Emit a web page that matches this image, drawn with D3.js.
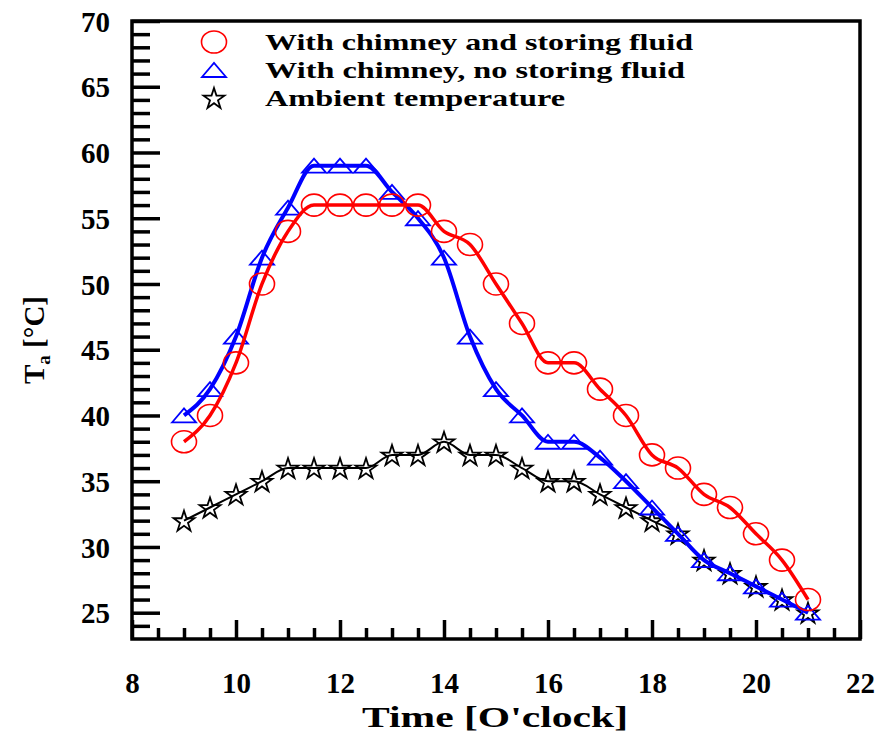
<!DOCTYPE html>
<html><head><meta charset="utf-8">
<script src="https://cdn.jsdelivr.net/npm/d3@7"></script>
<style>body{margin:0;background:#fff}</style>
</head><body><svg id="c" width="881" height="738"></svg>
<script>
const times = [9,9.5,10,10.5,11,11.5,12,12.5,13,13.5,14,14.5,15,15.5,16,16.5,17,17.5,18,18.5,19,19.5,20,20.5,21];
const storing = [38,40,44,50,54,56,56,56,56,56,54,53,50,47,44,44,42,40,37,36,34,33,31,29,26];
const noStoring = [40,42,46,52,55.8,59,59,59,57,55,52,46,42,40,38,38,36.8,35,33,31,29,28,27,26,25];
const ambient = [32,33,34,35,36,36,36,36,37,37,38,37,37,36,35,35,34,33,32,31,29,28,27,26,25];
const seriesNames = ["With chimney and storing fluid","With chimney, no storing fluid","Ambient temperature"];
const xMajor = [8,10,12,14,16,18,20,22];
const xMinor = [8.5,9,9.5,10.5,11,11.5,12.5,13,13.5,14.5,15,15.5,16.5,17,17.5,18.5,19,19.5,20.5,21,21.5];
const yMajor = [25,30,35,40,45,50,55,60,65,70];
const yMinor = [24,26,27,28,29,31,32,33,34,36,37,38,39,41,42,43,44,46,47,48,49,51,52,53,54,56,57,58,59,61,62,63,64,66,67,68,69];

const svg = d3.select("#c");
const L=132,R=860,T=21,B=639;
const x = d3.scaleLinear().domain([8,22]).range([L,R]);
const y = d3.scaleLinear().domain([23,70]).range([B,T]);
const font = "'Liberation Serif','Times New Roman',serif";

// ticks
function styleAxis(g){ g.select(".domain").remove(); g.selectAll("line").attr("stroke","#000").attr("stroke-width",3.5); }
svg.append("g").attr("transform",`translate(0,${B})`)
  .call(d3.axisBottom(x).tickValues(xMinor).tickSize(-11).tickFormat(""))
  .call(styleAxis);
const xg = svg.append("g").attr("transform",`translate(0,${B})`)
  .call(d3.axisBottom(x).tickValues(xMajor).tickSize(-19).tickFormat(d3.format("d")))
  .call(styleAxis);
xg.selectAll("text").attr("y",44).attr("dy","0.35em")
  .attr("font-family",font).attr("font-weight","bold").attr("font-size",29).attr("fill","#000");
svg.append("g").attr("transform",`translate(${L},0)`)
  .call(d3.axisLeft(y).tickValues(yMinor).tickSize(-18).tickFormat(""))
  .call(styleAxis);
const yg = svg.append("g").attr("transform",`translate(${L},0)`)
  .call(d3.axisLeft(y).tickValues(yMajor).tickSize(-28).tickFormat(d3.format("d")))
  .call(styleAxis);
yg.selectAll("text").attr("x",-22).attr("dy","0.35em")
  .attr("font-family",font).attr("font-weight","bold").attr("font-size",29).attr("fill","#000");

// frame
svg.append("rect").attr("x",L).attr("y",T).attr("width",R-L).attr("height",B-T)
  .attr("fill","none").attr("stroke","#000").attr("stroke-width",3.5);

// titles
svg.append("text").attr("x",362).attr("y",716).attr("dy","0.35em")
  .attr("font-family",font).attr("font-weight","bold").attr("font-size",30)
  .attr("textLength",266).attr("lengthAdjust","spacingAndGlyphs")
  .text("Time [O'clock]");
const yt = svg.append("text").attr("transform","translate(34,340) rotate(-90)").attr("text-anchor","middle")
  .attr("dy","0.35em").attr("font-family",font).attr("font-weight","bold").attr("font-size",29);
yt.append("tspan").text("T");
yt.append("tspan").attr("font-size",19).attr("dy",6).text("a");
yt.append("tspan").attr("dy",-6).text(" [\u00B0C]");

// markers
const tri = "M-12,7L0,-7L12,7Z";
const starPath = d3.symbol(d3.symbolStar, 135)();
function drawMarker(g, kind, cx, cy){
  if(kind===0) g.append("ellipse").attr("cx",cx).attr("cy",cy).attr("rx",12.5).attr("ry",11)
      .attr("fill","none").attr("stroke","#ff0000").attr("stroke-width",1.6);
  else if(kind===1) g.append("path").attr("d",tri).attr("transform",`translate(${cx},${cy})`)
      .attr("fill","none").attr("stroke","#0000ff").attr("stroke-width",1.8);
  else g.append("path").attr("d",starPath).attr("transform",`translate(${cx},${cy+1})`)
      .attr("fill","none").attr("stroke","#000").attr("stroke-width",1.8);
}
const line = d3.line().x((d,i)=>x(times[i])).y(d=>y(d)).curve(d3.curveMonotoneX);
const series = [
  {vals: ambient, color:"#000", w:2, kind:2},
  {vals: noStoring, color:"#0000ff", w:4, kind:1},
  {vals: storing, color:"#ff0000", w:3.5, kind:0}
];
series.forEach(s=>{
  const g = svg.append("g");
  g.append("path").attr("d",line(s.vals)).attr("fill","none").attr("stroke",s.color).attr("stroke-width",s.w);
  s.vals.forEach((v,i)=>drawMarker(g,s.kind,x(times[i]),y(v)));
});

// legend
const lg = svg.append("g");
const legY = [42,70,98];
const legW = [428,420,300];
seriesNames.forEach((n,i)=>{
  drawMarker(lg,i,214,legY[i]);
  lg.append("text").attr("x",265).attr("y",legY[i]).attr("dy","0.35em")
    .attr("font-family",font).attr("font-weight","bold").attr("font-size",23)
    .attr("textLength",legW[i]).attr("lengthAdjust","spacingAndGlyphs").text(n);
});
</script></body></html>
